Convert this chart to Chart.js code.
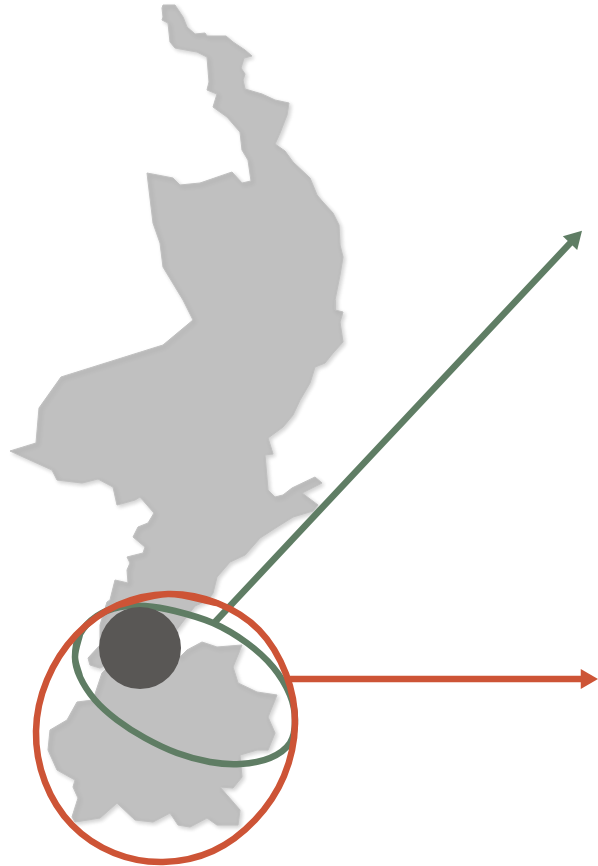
<!DOCTYPE html>
<html lang="en">
<head>
    <meta charset="UTF-8">
    <title>Limburg map</title>
    <style>
        html, body { margin: 0; padding: 0; background-color: white; }
        canvas { display: block; }
    </style>
    <script src="https://cdn.jsdelivr.net/npm/chart.js"></script>
</head>
<body>
    <canvas id="myChart" width="598" height="866"></canvas>

    <script>
        // Province outline, clockwise from the top
        const regionOutline = [
            [163,5],[175,5],[183,17],[187,27],[195,34],[205,33],[207,36],[226,36],[233,42],[245,50],[252,56],
            [244,58],[241,68],[245,74],[243,80],[245,89],[262,94],[275,100],[289,103],[287,115],[280,133],[275,144],
            [285,151],[293,162],[310,178],[317,195],[322,201],[333,213],[339,225],[340,245],[343,257],[340,275],
            [335,300],[335,310],[343,312],[340,322],[343,342],[333,353],[325,363],[315,367],[310,383],[300,400],
            [293,415],[283,427],[268,438],[273,454],[265,455],[268,490],[275,497],[283,495],[292,488],[315,477],
            [322,483],[302,493],[318,505],[313,511],[293,517],[277,527],[260,538],[245,555],[230,562],[217,577],
            [213,593],[208,600],[195,606],[178,628],[165,645],[180,657],[187,650],[202,642],[217,647],[242,645],
            [233,667],[238,683],[257,692],[277,695],[268,717],[275,733],[268,750],[257,750],[240,755],[242,777],
            [233,788],[220,787],[240,810],[238,825],[217,825],[207,818],[190,827],[178,825],[170,813],[153,822],
            [135,820],[117,803],[100,818],[75,822],[72,817],[78,798],[73,787],[75,780],[57,770],[48,750],[50,730],
            [67,720],[77,702],[93,700],[102,673],[115,660],[100,668],[90,665],[88,658],[100,645],[100,625],[107,602],
            [110,600],[115,580],[128,583],[127,570],[130,563],[127,557],[143,553],[145,547],[133,537],[138,527],
            [148,523],[154,513],[140,497],[135,500],[117,505],[113,487],[98,479],[82,483],[57,480],[52,470],[10,451],
            [36,443],[39,408],[61,377],[163,345],[193,320],[183,300],[163,267],[160,243],[153,223],[147,173],[173,178],
            [180,185],[200,183],[232,172],[242,183],[251,181],[248,160],[242,150],[240,132],[227,117],[213,107],
            [217,94],[207,90],[209,82],[207,57],[197,52],[175,48],[170,42],[168,23],[162,20],[163,17],[162,8],[163,5]
        ];

        const cityPoint = [[140,648]];

        // rings run a little past their start so the join stays smooth
        const greenRing = [
            [80,677],[75,657],[80,634],[97,616],[120,607],[145,606],[175,611],[213,623],[247,643],[273,667],[290,695],
            [295,720],[290,743],[270,758],[240,764],[210,762],[177,753],[145,738],[117,720],[95,700],[80,677],[75,657],[80,634]
        ];
        const redRing = [
            [118,605],[168,594],[217,603],[259,630],[286,674],[295,724],[284,776],[255,820],[213,851],[163,862],[114,853],
            [72,825],[45,782],[36,731],[47,680],[76,635],[118,605],[168,594],[217,603]
        ];

        const greenArrow = [[215,622],[574,239]];
        const redArrow = [[290,679],[586.5,679]];

        const GREY = '#c0c0c0';
        const DARK = '#595755';
        const GREEN = '#5f7d64';
        const RED = '#cd5436';

        // soft edge under the map only
        const mapShadow = {
            id: 'mapShadow',
            beforeDatasetsDraw(chart) {
                chart.ctx.shadowColor = 'rgba(0, 0, 0, 0.18)';
                chart.ctx.shadowBlur = 4;
                chart.ctx.shadowOffsetX = 2;
                chart.ctx.shadowOffsetY = 2;
            },
            afterDatasetDraw(chart, args) {
                if (chart.data.datasets[args.index].label === 'Region') {
                    chart.ctx.shadowColor = 'rgba(0, 0, 0, 0)';
                    chart.ctx.shadowBlur = 0;
                    chart.ctx.shadowOffsetX = 0;
                    chart.ctx.shadowOffsetY = 0;
                }
            }
        };

        function arrowDataset(label, data, color, rotation) {
            return {
                label: label,
                data: data,
                showLine: true,
                borderColor: color,
                borderWidth: 6.5,
                backgroundColor: color,
                pointStyle: 'triangle',
                pointRadius: [0, 11.5],
                pointRotation: rotation,
                pointBorderWidth: 0
            };
        }

        function ringDataset(label, data, color) {
            return {
                label: label,
                data: data,
                showLine: true,
                borderColor: color,
                borderWidth: 6.5,
                tension: 0.33,
                pointRadius: 0
            };
        }

        // first dataset ends up on top
        const ctx = document.getElementById('myChart').getContext('2d');
        const myChart = new Chart(ctx, {
            type: 'scatter',
            data: {
                datasets: [
                    ringDataset('Red ring', redRing, RED),
                    arrowDataset('Red arrow', redArrow, RED, 90),
                    {
                        label: 'City',
                        data: cityPoint,
                        backgroundColor: DARK,
                        pointRadius: 41,
                        pointBorderWidth: 0
                    },
                    ringDataset('Green ring', greenRing, GREEN),
                    arrowDataset('Green arrow', greenArrow, GREEN, 44),
                    {
                        label: 'Region',
                        data: regionOutline,
                        showLine: true,
                        fill: 'shape',
                        backgroundColor: GREY,
                        borderColor: GREY,
                        borderWidth: 1,
                        pointRadius: 0
                    }
                ]
            },
            options: {
                responsive: false,
                animation: false,
                clip: false,
                layout: { padding: 0, autoPadding: false },
                plugins: {
                    legend: { display: false },
                    tooltip: { enabled: false }
                },
                scales: {
                    x: { type: 'linear', display: false, min: 0, max: 598 },
                    y: { type: 'linear', display: false, min: 0, max: 866, reverse: true }
                }
            },
            plugins: [mapShadow]
        });
    </script>
</body>
</html>
